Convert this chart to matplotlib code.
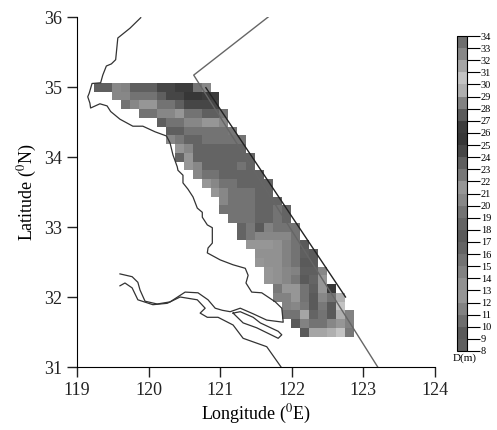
import numpy as np
import matplotlib
matplotlib.use('Agg')
import matplotlib.pyplot as plt
from matplotlib.colors import ListedColormap, BoundaryNorm

plt.rcParams['font.family'] = ['Liberation Serif', 'DejaVu Serif']
plt.rcParams['mathtext.fontset'] = 'stix'

# depth levels of the colorbar and the gray of each band
levels = list(range(8, 35))
level_grays = [95, 90, 110, 130, 150, 145, 130, 115, 100, 90, 100, 115, 135,
               150, 120, 95, 70, 55, 60, 90, 130, 175, 195, 165, 135, 110]

# first column of each row, then the depths along the row
row_starts = [0, 2, 3, 5, 7, 8, 8, 9, 9, 10, 11, 12, 13, 14, 14, 15, 16, 16, 17,
              18, 18, 19, 19, 20, 20, 21, 21, 22, 23]
row_depths = [
    [23, 23, 20, 14, 23, 23, 23, 24, 24, 26, 26, 19, 20],
    [20, 20, 19, 19, 19, 23, 24, 24, 25, 25, 26, 26],
    [19, 20, 21, 21, 19, 19, 23, 24, 24, 24, 24],
    [19, 19, 20, 20, 21, 19, 19, 23, 23, 19],
    [23, 19, 19, 20, 20, 21, 21, 20],
    [23, 23, 19, 19, 19, 19, 19, 22],
    [20, 22, 18, 18, 19, 19, 19, 19, 19],
    [21, 20, 18, 18, 18, 18, 18, 18],
    [18, 21, 18, 18, 18, 18, 18, 18, 18],
    [21, 20, 18, 18, 18, 18, 19, 18],
    [20, 19, 19, 18, 18, 18, 18, 18],
    [21, 20, 19, 19, 18, 18, 18, 18],
    [21, 20, 19, 19, 19, 18, 18],
    [20, 19, 19, 19, 18, 18, 18],
    [19, 19, 19, 19, 18, 18, 19, 18],
    [19, 19, 19, 18, 18, 19, 18],
    [18, 22, 17, 14, 19, 19, 19],
    [18, 22, 20, 20, 20, 20, 19],
    [21, 21, 21, 13, 14, 15, 17],
    [13, 13, 13, 14, 15, 23, 17],
    [21, 13, 13, 14, 19, 17, 17],
    [21, 13, 20, 14, 23, 23, 20],
    [21, 13, 20, 22, 17, 18, 21],
    [22, 21, 21, 15, 23, 21, 25],
    [14, 14, 21, 19, 17, 20, 19, 29],
    [14, 20, 22, 17, 22, 27, 30],
    [19, 19, 31, 18, 19, 17, 29, 14],
    [17, 14, 19, 19, 20, 21, 14],
    [27, 31, 31, 29, 30, 22],
]

lon0 = 119.24
lat0 = 35.06
cell = 0.125

# coastline, river banks and the island in the estuary
coast_lon = [119.89, 119.74, 119.57, 119.54, 119.48, 119.41, 119.36, 119.33, 119.21, 119.17,
             119.15, 119.18, 119.19, 119.32, 119.42, 119.47, 119.60, 119.78, 119.92, 120.09,
             120.25, 120.30, 120.34, 120.40, 120.41, 120.48, 120.48, 120.55, 120.62, 120.68,
             120.75, 120.75, 120.82, 120.89, 120.89, 120.83, 120.82, 121.00, 121.18, 121.35,
             121.39, 121.36, 121.44, 121.58, 121.77, 121.86, 121.88, 121.65, 121.46, 121.28,
             121.14, 121.03, 120.93, 120.83, 120.69, 120.51, 120.30, 120.12, 119.95, 119.88,
             119.85, 119.77, 119.60]
coast_lat = [35.99, 35.84, 35.70, 35.39, 35.33, 35.30, 35.17, 35.06, 35.05, 34.91,
             34.86, 34.77, 34.70, 34.76, 34.73, 34.65, 34.54, 34.44, 34.44, 34.36,
             34.30, 34.20, 34.03, 33.86, 33.81, 33.74, 33.63, 33.54, 33.43, 33.27,
             33.21, 33.14, 33.03, 32.99, 32.77, 32.70, 32.63, 32.53, 32.46, 32.41,
             32.31, 32.20, 32.07, 32.06, 31.93, 31.84, 31.64, 31.67, 31.76, 31.84,
             31.79, 31.81, 31.84, 31.96, 32.06, 32.07, 31.93, 31.90, 31.94, 32.10,
             32.21, 32.29, 32.33]
south_lon = [119.60, 119.67, 119.77, 119.85, 120.06, 120.26, 120.44, 120.68, 120.79, 120.72,
             120.82, 120.97, 121.18, 121.32, 121.65, 121.85]
south_lat = [32.16, 32.20, 32.13, 31.96, 31.89, 31.91, 32.00, 31.96, 31.84, 31.77,
             31.71, 31.71, 31.60, 31.41, 31.29, 31.00]
island_lon = [121.18, 121.32, 121.51, 121.81, 121.86, 121.81, 121.56, 121.46, 121.28, 121.18]
island_lat = [31.77, 31.63, 31.56, 31.41, 31.46, 31.51, 31.63, 31.71, 31.79, 31.77]

# boundary line of the area
border_lon = [121.67, 120.63, 123.20]
border_lat = [36.00, 35.17, 31.00]
dark_lon = [120.80, 122.75]
dark_lat = [34.99, 32.00]

ncols = max(s + len(d) for s, d in zip(row_starts, row_depths))
grid = np.full((len(row_depths), ncols), np.nan)
for r, (s, d) in enumerate(zip(row_starts, row_depths)):
    grid[r, s:s + len(d)] = d
lon_edges = lon0 + cell * np.arange(ncols + 1)
lat_edges = lat0 - cell * np.arange(len(row_depths) + 1)

cmap = ListedColormap([str(g / 255) for g in level_grays])
norm = BoundaryNorm(levels, cmap.N)

fig = plt.figure(figsize=(4.97, 4.30), dpi=100)
ax = fig.add_axes([77 / 497, 1 - 367 / 430, 358 / 497, 350 / 430])
mesh = ax.pcolormesh(lon_edges, lat_edges, np.ma.masked_invalid(grid), cmap=cmap, norm=norm)

ax.plot(coast_lon, coast_lat, color='#333333', lw=0.9)
ax.plot(south_lon, south_lat, color='#333333', lw=0.9)
ax.plot(island_lon, island_lat, color='#333333', lw=0.9)
ax.plot(border_lon, border_lat, color='#666666', lw=1.0)
ax.plot(dark_lon, dark_lat, color='#222222', lw=1.0)

ax.set_xlim(119, 124)
ax.set_ylim(31, 36)
ax.set_xticks(range(119, 125))
ax.set_yticks(range(31, 37))
ax.tick_params(labelsize=13, length=7, width=1, colors='#222222')
ax.spines['top'].set_visible(False)
ax.spines['right'].set_visible(False)
ax.set_xlabel('Longitude ($^{0}$E)', fontsize=13, labelpad=3)
ax.set_ylabel('Latitude ($^{0}$N)', fontsize=13, labelpad=4)

cax = fig.add_axes([457 / 497, 1 - 351 / 430, 10 / 497, 315 / 430])
cb = fig.colorbar(mesh, cax=cax, ticks=levels, spacing='uniform')
cb.ax.tick_params(labelsize=7.5, length=9, width=0.8, pad=1)
cb.outline.set_linewidth(0.8)
fig.text(465 / 497, 1 - 358 / 430, 'D(m)', fontsize=8, ha='center', va='center')

fig.savefig('out.png', dpi=100)
